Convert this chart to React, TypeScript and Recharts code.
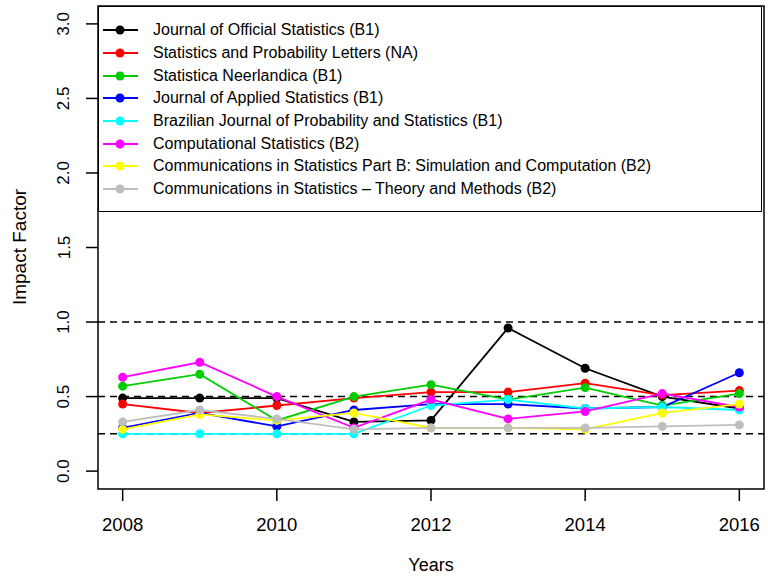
import { LineChart, Line, XAxis, YAxis, ReferenceLine, ReferenceArea } from 'recharts';

const years = [2008, 2009, 2010, 2011, 2012, 2013, 2014, 2015, 2016];

// impact factor per journal
const officialStats = [0.49, 0.49, 0.49, 0.33, 0.34, 0.96, 0.69, 0.5, 0.42];
const probLetters = [0.45, 0.39, 0.44, 0.49, 0.53, 0.53, 0.59, 0.51, 0.54];
const neerlandica = [0.57, 0.65, 0.34, 0.5, 0.58, 0.48, 0.56, 0.44, 0.52];
const appliedStats = [0.29, 0.39, 0.3, 0.41, 0.45, 0.45, 0.42, 0.43, 0.66];
const brazilian = [0.25, 0.25, 0.25, 0.25, 0.44, 0.48, 0.42, 0.43, 0.41];
const computational = [0.63, 0.73, 0.5, 0.29, 0.48, 0.35, 0.4, 0.52, 0.43];
const commSimulation = [0.28, 0.38, 0.34, 0.39, 0.29, 0.29, 0.28, 0.39, 0.45];
const commTheory = [0.33, 0.41, 0.35, 0.28, 0.29, 0.29, 0.29, 0.3, 0.31];

const yTicks = [0, 0.5, 1, 1.5, 2, 2.5, 3];
const thresholds = [1, 0.5, 0.25];

const series = [
  { key: 'jos', name: 'Journal of Official Statistics (B1)', color: '#000000', values: officialStats },
  { key: 'spl', name: 'Statistics and Probability Letters (NA)', color: '#FF0000', values: probLetters },
  { key: 'sn', name: 'Statistica Neerlandica (B1)', color: '#00CD00', values: neerlandica },
  { key: 'jas', name: 'Journal of Applied Statistics (B1)', color: '#0000FF', values: appliedStats },
  { key: 'bjps', name: 'Brazilian Journal of Probability and Statistics (B1)', color: '#00FFFF', values: brazilian },
  { key: 'cs', name: 'Computational Statistics (B2)', color: '#FF00FF', values: computational },
  { key: 'csp', name: 'Communications in Statistics Part B: Simulation and Computation (B2)', color: '#FFFF00', values: commSimulation },
  { key: 'cst', name: 'Communications in Statistics \u2013 Theory and Methods (B2)', color: '#BEBEBE', values: commTheory },
];

const data = years.map((year, i) => {
  const row: Record<string, number> = { year };
  series.forEach((s) => {
    row[s.key] = s.values[i];
  });
  return row;
});

const FONT = '"Liberation Sans", Arial, Helvetica, sans-serif';

const XTick = ({ x, y, payload }: any) => (
  <text x={x} y={y + 28} textAnchor="middle" fontSize={18.5} fontFamily={FONT} fill="#000">
    {payload.value}
  </text>
);

const YTick = ({ y, payload }: any) => (
  <text
    x={64}
    y={y}
    transform={`rotate(-90 64 ${y})`}
    textAnchor="middle"
    dominantBaseline="central"
    fontSize={17}
    fontFamily={FONT}
    fill="#000"
  >
    {payload.value.toFixed(1)}
  </text>
);

const LegendBox = () => (
  <div
    style={{
      position: 'absolute',
      left: 98,
      top: 6,
      width: 664,
      height: 206,
      boxSizing: 'border-box',
      border: '1.5px solid #000',
      background: '#fff',
      paddingTop: 12,
      fontFamily: FONT,
      fontSize: 16,
    }}
  >
    {series.map((s) => (
      <div key={s.key} style={{ display: 'flex', alignItems: 'center', height: 22.7 }}>
        <svg width={54} height={12} style={{ flex: 'none' }}>
          <line x1={4} x2={39} y1={6} y2={6} stroke={s.color} strokeWidth={1.8} />
          <circle cx={21} cy={6} r={4.5} fill={s.color} />
        </svg>
        <span style={{ whiteSpace: 'nowrap' }}>{s.name}</span>
      </div>
    ))}
  </div>
);

export default function App() {
  return (
    <div style={{ position: 'absolute', left: 0, top: 0, width: 768, height: 577, background: '#fff' }}>
      <LineChart width={768} height={577} data={data} margin={{ top: 6, right: 4, bottom: 0, left: 0 }}>
        <XAxis
          dataKey="year"
          type="number"
          domain={[2007.68, 2016.32]}
          ticks={years.filter((y) => y % 2 === 0)}
          axisLine={false}
          tickSize={12}
          tickLine={{ stroke: '#000', strokeWidth: 1.5 }}
          tick={<XTick />}
          height={88}
          label={() => (
            <text x={431} y={571} textAnchor="middle" fontSize={18} fontFamily={FONT} fill="#000">
              Years
            </text>
          )}
        />
        <YAxis
          type="number"
          domain={[-0.12, 3.12]}
          ticks={yTicks}
          axisLine={false}
          tickSize={12}
          tickLine={{ stroke: '#000', strokeWidth: 1.5 }}
          tick={<YTick />}
          width={98}
          label={() => (
            <text
              x={19}
              y={247}
              transform="rotate(-90 19 247)"
              textAnchor="middle"
              dominantBaseline="central"
              fontSize={19}
              fontFamily={FONT}
              fill="#000"
            >
              Impact Factor
            </text>
          )}
        />
        <ReferenceArea
          x1={2007.68}
          x2={2016.32}
          y1={-0.12}
          y2={3.12}
          fill="none"
          stroke="#000"
          strokeWidth={1.5}
          fillOpacity={0}
          ifOverflow="visible"
        />
        {thresholds.map((t) => (
          <ReferenceLine key={t} y={t} stroke="#000" strokeWidth={1.5} strokeDasharray="7 5" />
        ))}
        {series.map((s) => (
          <Line
            key={s.key}
            dataKey={s.key}
            name={s.name}
            stroke={s.color}
            strokeWidth={1.8}
            dot={{ r: 4.5, fill: s.color, stroke: s.color, strokeWidth: 0 }}
            activeDot={false}
            isAnimationActive={false}
          />
        ))}
      </LineChart>
      <LegendBox />
    </div>
  );
}
